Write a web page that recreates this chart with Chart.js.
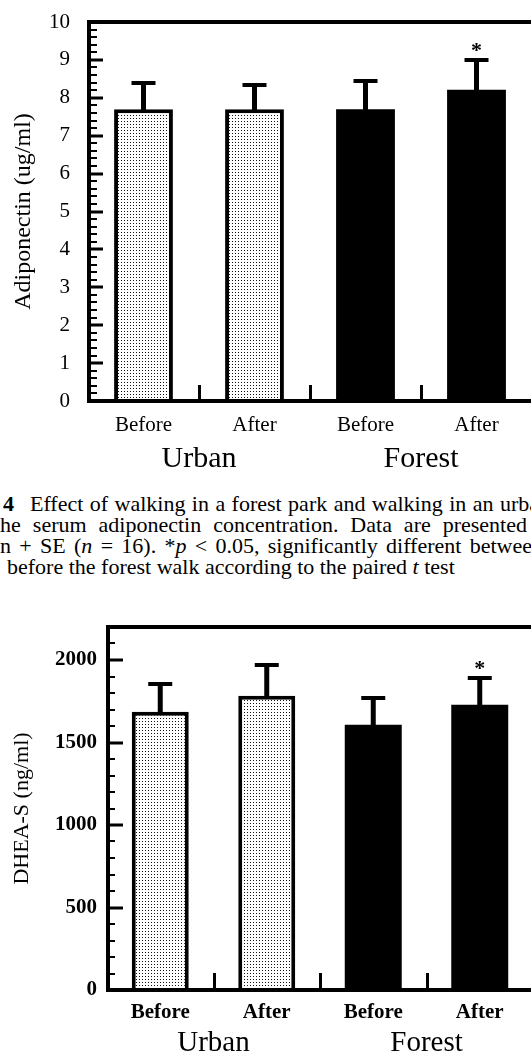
<!DOCTYPE html>
<html lang="en">
<head>
<meta charset="UTF-8">
<title>Adiponectin and DHEA-S: urban vs forest walk</title>
<script src="https://cdn.jsdelivr.net/npm/chart.js@4.4.1/dist/chart.umd.min.js"></script>
<style>
    html, body { margin: 0; padding: 0; background: #fff; width: 531px; height: 1058px; overflow: hidden; }
    canvas { position: absolute; left: 0; }
    #adipo { top: 0; }
    #dhea { top: 600px; }
    .cap { position: absolute; font: 22px "Liberation Serif", "Times New Roman", serif; line-height: 21px; height: 21px; color: #000; white-space: normal; }
    .just { text-align: justify; text-align-last: justify; }
</style>
</head>
<body>
    <canvas id="adipo" width="540" height="480"></canvas>

    <!-- caption (cropped at both sides like the scan) -->
    <div class="cap" style="top:493px; left:3px;"><b>4</b></div>
    <div class="cap just" style="top:493px; left:30px; width:520px;">Effect of walking in a forest park and walking in an urban</div>
    <div class="cap just" style="top:514px; left:-6px; width:533px;">the serum adiponectin concentration. Data are presented</div>
    <div class="cap just" style="top:535px; left:0; width:543px;">n + SE (<i>n</i> = 16). *<i>p</i> &lt; 0.05, significantly different between</div>
    <div class="cap" style="top:556px; left:7px;">before the forest walk according to the paired <i>t</i> test</div>

    <canvas id="dhea" width="540" height="458"></canvas>

    <script>
        /************  DATA  ************/
        const phases = ['Before', 'After', 'Before', 'After'];
        const groups = ['Urban', 'Forest'];

        const adipoMean = [7.70, 7.70, 7.70, 8.21];
        const adipoSE = [0.70, 0.63, 0.74, 0.79];

        const dheaMean = [1687, 1783, 1608, 1729];
        const dheaSE = [168, 187, 163, 163];

        const significant = [false, false, false, true];

        const adipoAxis = { min: 0, max: 10, step: 1, minor: 0.2 };
        const dheaAxis = { min: 0, max: 2200, step: 500, minor: 100 };

        const SERIF = '"Liberation Serif", "Times New Roman", serif';

        // light dotted fill used for the urban bars
        function dotPattern(ctx) {
            const c = document.createElement('canvas');
            c.width = 3; c.height = 3;
            const g = c.getContext('2d');
            g.fillStyle = '#fff';
            g.fillRect(0, 0, 3, 3);
            g.fillStyle = '#111';
            g.fillRect(1, 1, 1, 1);
            return ctx.createPattern(c, 'repeat');
        }

        /************  PLUGIN: frame, inward ticks, error bars  ************/
        const marks = {
            id: 'marks',
            afterDatasetsDraw(chart, args, o) {
                const { ctx, chartArea: a, scales: { x, y } } = chart;
                const means = chart.data.datasets[0].data;
                ctx.save();
                ctx.fillStyle = '#000';
                ctx.strokeStyle = '#000';

                // minor / major ticks pointing into the plot
                const n = Math.round((y.max - y.min) / o.axis.minor);
                for (let i = 0; i <= n; i++) {
                    const v = y.min + i * o.axis.minor;
                    const r = v / o.axis.step;
                    const major = Math.abs(r - Math.round(r)) < 1e-6;
                    const py = Math.round(y.getPixelForValue(v));
                    if (major) ctx.fillRect(a.left, py - 1.5, o.majorLen, 3);
                    else ctx.fillRect(a.left, py - 1, o.minorLen, 2);
                }

                // short ticks between categories
                for (let i = 1; i < x.ticks.length; i++) {
                    const px = Math.round((x.getPixelForTick(i - 1) + x.getPixelForTick(i)) / 2);
                    ctx.fillRect(px - 1, a.bottom - o.catLen, 3, o.catLen);
                }

                // error bars (mean + SE), with star for significance
                chart.getDatasetMeta(0).data.forEach((bar, i) => {
                    const yTop = Math.round(y.getPixelForValue(means[i] + o.errs[i]));
                    ctx.fillRect(bar.x - 2.5, yTop, 5, bar.y - yTop + 2);
                    ctx.fillRect(bar.x - 12, yTop - 2, 24, 4);
                    if (significant[i]) {
                        ctx.font = 'bold 22px ' + SERIF;
                        ctx.textAlign = 'center';
                        ctx.textBaseline = 'alphabetic';
                        ctx.fillText('*', bar.x, yTop - 3);
                    }
                });

                // box
                ctx.lineWidth = 4;
                ctx.strokeRect(a.left + 1, a.top, a.width + 1, a.height);
                ctx.restore();
            }
        };

        /************  CHART BUILDER  ************/
        function makeChart(id, means, errs, axis, cfg) {
            const canvas = document.getElementById(id);
            const fill = dotPattern(canvas.getContext('2d'));
            return new Chart(canvas, {
                type: 'bar',
                data: {
                    labels: phases,
                    datasets: [{
                        data: means,
                        xAxisID: 'x',
                        yAxisID: 'y',
                        backgroundColor: [fill, fill, '#000', '#000'],
                        borderColor: '#000',
                        borderWidth: [4, 4, 0, 0],
                        borderSkipped: 'start',
                        barPercentage: 1,
                        categoryPercentage: cfg.barFrac
                    }]
                },
                options: {
                    responsive: false,
                    animation: false,
                    devicePixelRatio: 1,
                    events: [],
                    layout: { padding: { top: cfg.top, right: cfg.right, left: 0, bottom: 0 } },
                    plugins: {
                        legend: { display: false },
                        tooltip: { enabled: false },
                        marks: { errs, axis, majorLen: cfg.majorLen, minorLen: cfg.minorLen, catLen: cfg.catLen }
                    },
                    scales: {
                        x: {
                            type: 'category',
                            offset: true,
                            weight: 0,
                            grid: { display: false, drawTicks: false },
                            border: { display: false },
                            ticks: {
                                color: '#000', padding: cfg.xPad, maxRotation: 0, autoSkip: false,
                                font: { family: SERIF, size: 21, weight: cfg.tickWeight }
                            },
                            afterFit: s => { s.height = cfg.xH; s.paddingLeft = 0; s.paddingRight = 0; }
                        },
                        groups: {
                            type: 'category',
                            labels: groups,
                            position: 'bottom',
                            offset: true,
                            weight: 1,
                            grid: { display: false, drawTicks: false },
                            border: { display: false },
                            ticks: {
                                color: '#000', padding: cfg.gPad, maxRotation: 0,
                                font: { family: SERIF, size: cfg.groupSize }
                            },
                            afterFit: s => { s.height = cfg.gH; s.paddingLeft = 0; s.paddingRight = 0; }
                        },
                        y: {
                            min: axis.min,
                            max: axis.max,
                            grid: { display: false, drawTicks: false },
                            border: { display: false },
                            ticks: {
                                color: '#000', padding: cfg.yPad,
                                font: { family: SERIF, size: cfg.ySize, weight: cfg.tickWeight },
                                callback: v => String(v)
                            },
                            afterBuildTicks: s => {
                                const t = [];
                                for (let v = axis.min; v <= axis.max + 1e-9; v += axis.step) t.push({ value: v });
                                s.ticks = t;
                            },
                            title: {
                                display: true, text: cfg.title, color: '#000',
                                font: { family: SERIF, size: cfg.titleSize }, padding: { top: 9, bottom: 0 }
                            },
                            afterFit: s => { s.width = cfg.yW; s.paddingTop = 0; s.paddingBottom = 0; }
                        }
                    }
                },
                plugins: [marks]
            });
        }

        window.addEventListener('DOMContentLoaded', () => {
            makeChart('adipo', adipoMean, adipoSE, adipoAxis, {
                title: 'Adiponectin (ug/ml)', titleSize: 24,
                top: 22, right: 8, yW: 88, xH: 36, gH: 43,
                xPad: 12, gPad: 4, yPad: 18, ySize: 21, groupSize: 30, tickWeight: 'normal',
                barFrac: 0.53, majorLen: 15, minorLen: 9, catLen: 16
            });
            makeChart('dhea', dheaMean, dheaSE, dheaAxis, {
                title: 'DHEA-S (ng/ml)', titleSize: 22,
                top: 27, right: 7, yW: 107, xH: 34, gH: 34,
                xPad: 10, gPad: 2, yPad: 10, ySize: 21, groupSize: 29, tickWeight: 'bold',
                barFrac: 0.535, majorLen: 16, minorLen: 8, catLen: 17
            });
        });
    </script>
</body>
</html>
